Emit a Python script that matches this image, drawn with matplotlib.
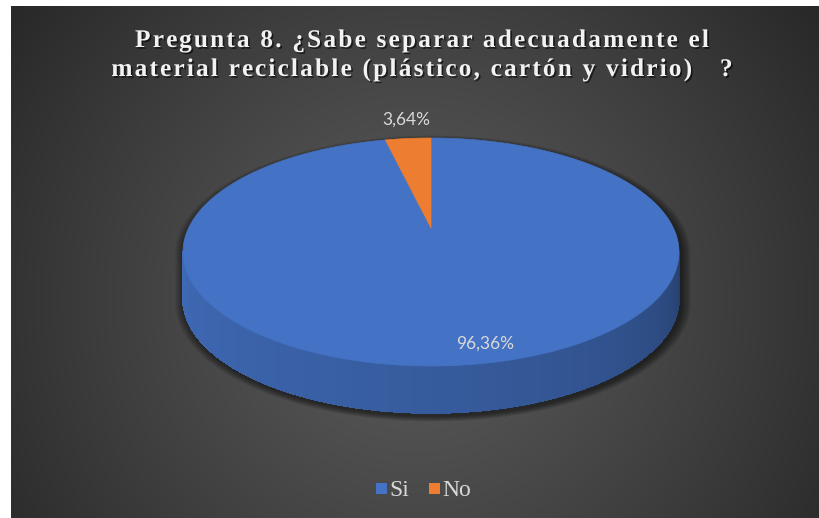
import numpy as np
import matplotlib
matplotlib.use("Agg")
from matplotlib import pyplot as plt
from matplotlib.patches import Polygon, Rectangle
from matplotlib.collections import PolyCollection
from matplotlib.font_manager import FontProperties
import matplotlib.patheffects as pe
from matplotlib.colors import to_rgb


# data
labels = ["Si", "No"]
values = [96.36, 3.64]
colors = ["#4472C4", "#ED7D31"]
title_lines = ["Pregunta 8. ¿Sabe separar adecuadamente el",
               "material reciclable (plástico, cartón y vidrio)   ?"]


W, H = 820, 518
fig = plt.figure(figsize=(W / 100, H / 100), dpi=100)
ax = fig.add_axes([0, 0, 1, 1])
fig.patch.set_facecolor("white")

# background: dark radial gradient (chart area has a small white margin top/left)
x0, y0 = 11, 6
xx, yy = np.meshgrid(np.arange(x0, W) + 0.5, np.arange(y0, H) + 0.5)
r = np.clip(np.hypot(xx - 415, yy - 300) / 500, 0, 1)
g = (90 - 50 * r ** 1.2) / 255
ax.imshow(np.dstack([g, g, g]), extent=(x0, W, H, y0), aspect="auto",
          zorder=0, interpolation="bilinear")
ax.set_xlim(0, W)
ax.set_ylim(H, 0)
ax.axis("off")

# 3D pie geometry (simple perspective on a tilted disc)
k = 0.21
left_x, right_x = 183, 679
top_y, bot_y = 138, 366
depth = 47


def proj(theta):
    d = 1 + k * np.cos(theta)
    return np.sin(theta) / d, np.cos(theta) / d


tt = np.linspace(0, 2 * np.pi, 3000)
xp, yp = proj(tt)
sx = (right_x - left_x) / (xp.max() - xp.min())
sy = (bot_y - top_y) / (yp.max() - yp.min())


def to_px(theta):
    a, b = proj(theta)
    return left_x + (a - xp.min()) * sx, top_y + (yp.max() - b) * sy


apex = (left_x - xp.min() * sx, top_y + yp.max() * sy)
th_r = tt[np.argmax(xp)]
th_l = tt[np.argmin(xp)]

fracs = np.array(values) / sum(values)
bounds = np.concatenate([[0], np.cumsum(fracs)]) * 2 * np.pi

# soft shadow around the disc
back = np.linspace(th_l - 2 * np.pi, th_r, 300)
front = np.linspace(th_r, th_l, 300)
bx, by = to_px(back)
fx, fy = to_px(front)
ox = np.concatenate([bx, fx])
oy = np.concatenate([by, fy + depth])
mcx, mcy = apex[0], (top_y + bot_y + depth) / 2
for i in range(10):
    s = 1 + 0.004 * (i + 1)
    ax.add_patch(Polygon(np.c_[mcx + (ox - mcx) * s + 2, mcy + (oy - mcy) * s + 3],
                         closed=True, facecolor="black", edgecolor="none",
                         alpha=0.06, zorder=1))

# side wall (only the front half is visible)
for lab, c, a0, a1 in zip(labels, colors, bounds[:-1], bounds[1:]):
    s0, s1 = max(a0, th_r), min(a1, th_l)
    if s1 <= s0:
        continue
    th = np.linspace(s0, s1, 400)
    px, py = to_px(th)
    base = np.array(to_rgb(c))
    # antialiased outline underneath
    ax.add_patch(Polygon(np.c_[np.concatenate([px, px[::-1]]),
                               np.concatenate([py, py[::-1] + depth])],
                         closed=True, facecolor=base * 0.75, edgecolor="none", zorder=2))
    quads, cols = [], []
    for j in range(len(th) - 1):
        t = (th[j] - th_r) / (th_l - th_r)
        f = 0.48 + 0.44 * t ** 0.45
        cols.append(np.clip(base * f, 0, 1))
        quads.append([(px[j], py[j]), (px[j + 1], py[j + 1]),
                      (px[j + 1], py[j + 1] + depth), (px[j], py[j] + depth)])
    pc = PolyCollection(quads, facecolors=cols, edgecolors=cols, linewidths=0.5,
                        antialiaseds=False, zorder=2.5)
    ax.add_collection(pc)

# top face
for c, a0, a1 in zip(colors, bounds[:-1], bounds[1:]):
    th = np.linspace(a0, a1, max(int((a1 - a0) * 200), 10))
    px, py = to_px(th)
    pts = np.vstack([[apex], np.c_[px, py]])
    ax.add_patch(Polygon(pts, closed=True, facecolor=c, edgecolor=c,
                         linewidth=0.5, zorder=3))

# data labels
label_pos = [(485, 344), (406, 120)]
for v, (lx, ly) in zip(values, label_pos):
    ax.text(lx, ly, f"{v:.2f}".replace(".", ",") + "%", ha="center", va="center",
            color="#d9d9d9", fontsize=12.5, family="Lato", zorder=5)

# title with expanded letter spacing
fp = FontProperties(family="Liberation Serif", weight="bold", size=18.3)
renderer = fig.canvas.get_renderer()


def text_w(s):
    return renderer.get_text_width_height_descent(s, fp, ismath=False)[0]


bar_w = text_w("|")
w0 = text_w(title_lines[0])
spacing = (574 - w0) / (len(title_lines[0]) - 1)
title_cx = 422
baselines = [47, 76]
shadow = [pe.SimplePatchShadow(offset=(1.2, -1.2), shadow_rgbFace="black", alpha=0.6),
          pe.Normal()]
for line, base_y in zip(title_lines, baselines):
    total = text_w(line) + spacing * (len(line) - 1)
    start = title_cx - total / 2
    for i, ch in enumerate(line):
        if ch == " ":
            continue
        xoff = text_w(line[:i] + "|") - bar_w if i > 0 else 0
        ax.text(start + xoff + spacing * i, base_y, ch, fontproperties=fp,
                color="#f2f2f2", ha="left", va="baseline", zorder=5,
                path_effects=shadow)

# legend
leg_y = 489
leg_items = [(376, 389), (429, 442)]
for lab, c, (sqx, tx) in zip(labels, colors, leg_items):
    ax.add_patch(Rectangle((sqx, leg_y - 6), 11, 11, facecolor=c, edgecolor="none", zorder=5))
    ax.text(tx, leg_y + 7.5, lab, color="#d9d9d9", fontsize=17,
            family="Liberation Serif", ha="left", va="baseline", zorder=5)

fig.savefig("out.png", dpi=100, facecolor=fig.get_facecolor())
